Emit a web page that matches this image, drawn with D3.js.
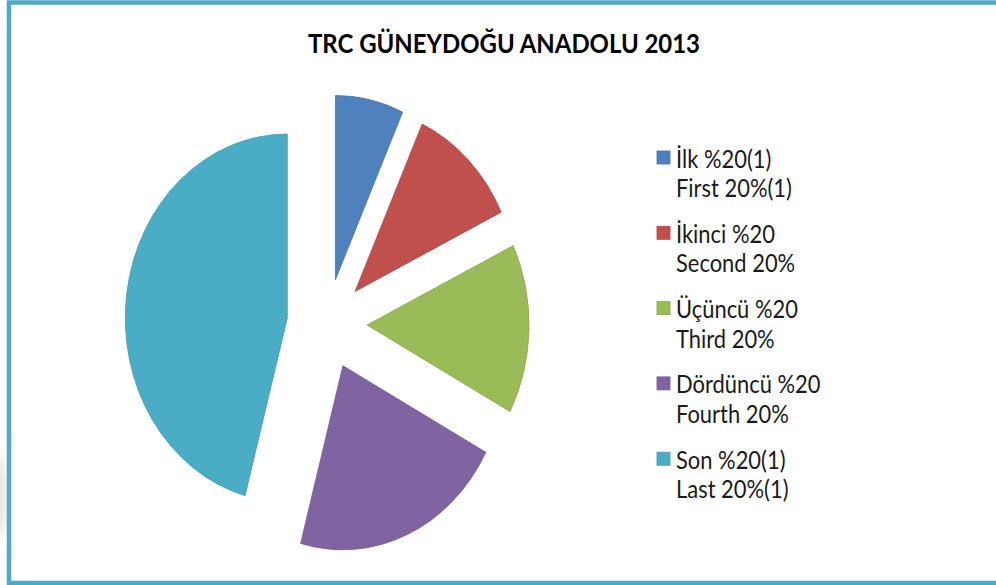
<!DOCTYPE html>
<html>
<head>
<meta charset="utf-8">
<script src="https://cdn.jsdelivr.net/npm/d3@7.9.0/dist/d3.min.js"></script>
<style>
  html, body { margin: 0; padding: 0; background: #fff; }
  svg { display: block; }
  text { font-family: Lato, "Open Sans", sans-serif; }
</style>
</head>
<body>
<svg id="chart" width="996" height="585"></svg>
<script>
// quintile shares (percent)
const groupsTr = ['İlk %20(1)', 'İkinci %20', 'Üçüncü %20', 'Dördüncü %20', 'Son %20(1)'];
const groupsEn = ['First 20%(1)', 'Second 20%', 'Third 20%', 'Fourth 20%', 'Last 20%(1)'];
const shares = [6.8, 11.1, 14.9, 21.4, 45.8];
const title = 'TRC GÜNEYDOĞU ANADOLU 2013';

const svg = d3.select('#chart');
const W = 996, H = 585;

const color = d3.scaleOrdinal()
    .domain(groupsTr)
    .range(['#4f81bd', '#c0504d', '#9bbb59', '#8064a2', '#4bacc6']);

svg.append('rect').attr('width', W).attr('height', H).attr('fill', '#fff');

// faint grey smudge left of the frame
const defs = svg.append('defs');
defs.append('filter').attr('id', 'blur')
    .append('feGaussianBlur').attr('stdDeviation', 6);
svg.append('ellipse')
    .attr('cx', -6).attr('cy', 495).attr('rx', 14).attr('ry', 42)
    .attr('fill', '#e4e4e4')
    .attr('filter', 'url(#blur)');

// frame, the right side runs off the picture
svg.append('rect')
    .attr('x', 9).attr('y', 2.5)
    .attr('width', 1000).attr('height', 580.5)
    .attr('fill', 'none')
    .attr('stroke', '#4bacc6')
    .attr('stroke-width', 4.5);

svg.append('text')
    .attr('x', 504).attr('y', 53)
    .attr('text-anchor', 'middle')
    .attr('font-size', 27)
    .attr('font-weight', 'bold')
    .attr('fill', '#000')
    .attr('textLength', 392)
    .attr('lengthAdjust', 'spacingAndGlyphs')
    .text(title);

// exploded pie, a bit taller than wide like the original
const R = 184;
const explode = 45.5;
const pie = d3.pie().sort(null).value(d => d.v);
const arc = d3.arc().innerRadius(0).outerRadius(R);
const rows = groupsTr.map((g, i) => ({ g, v: shares[i] }));

const pieG = svg.append('g')
    .attr('transform', `translate(327,324) scale(${162 / R},1)`);

pieG.selectAll('path')
    .data(pie(rows))
    .enter().append('path')
    .attr('transform', d => {
        const a = (d.startAngle + d.endAngle) / 2;
        return `translate(${explode * Math.sin(a)},${-explode * Math.cos(a)})`;
    })
    .attr('d', arc)
    .attr('fill', d => color(d.data.g))
    .attr('stroke', d => d3.color(color(d.data.g)).darker(0.35))
    .attr('stroke-width', 0.8)
    .attr('vector-effect', 'non-scaling-stroke');

// legend
const legend = svg.append('g').attr('transform', 'translate(657,151)');
const item = legend.selectAll('g')
    .data(groupsTr)
    .enter().append('g')
    .attr('transform', (d, i) => `translate(0,${i * 75.3})`);

item.append('rect')
    .attr('width', 13).attr('height', 13)
    .attr('fill', d => color(d))
    .attr('stroke', d => d3.color(color(d)).darker(0.35))
    .attr('stroke-width', 0.8);

item.append('text')
    .attr('transform', 'translate(19,16.5) scale(1.02,1.12)')
    .attr('font-size', 21.5)
    .attr('fill', '#1a1a1a')
    .text(d => d);

item.append('text')
    .attr('transform', 'translate(19,46) scale(1.02,1.12)')
    .attr('font-size', 21.5)
    .attr('fill', '#1a1a1a')
    .text((d, i) => groupsEn[i]);
</script>
</body>
</html>
